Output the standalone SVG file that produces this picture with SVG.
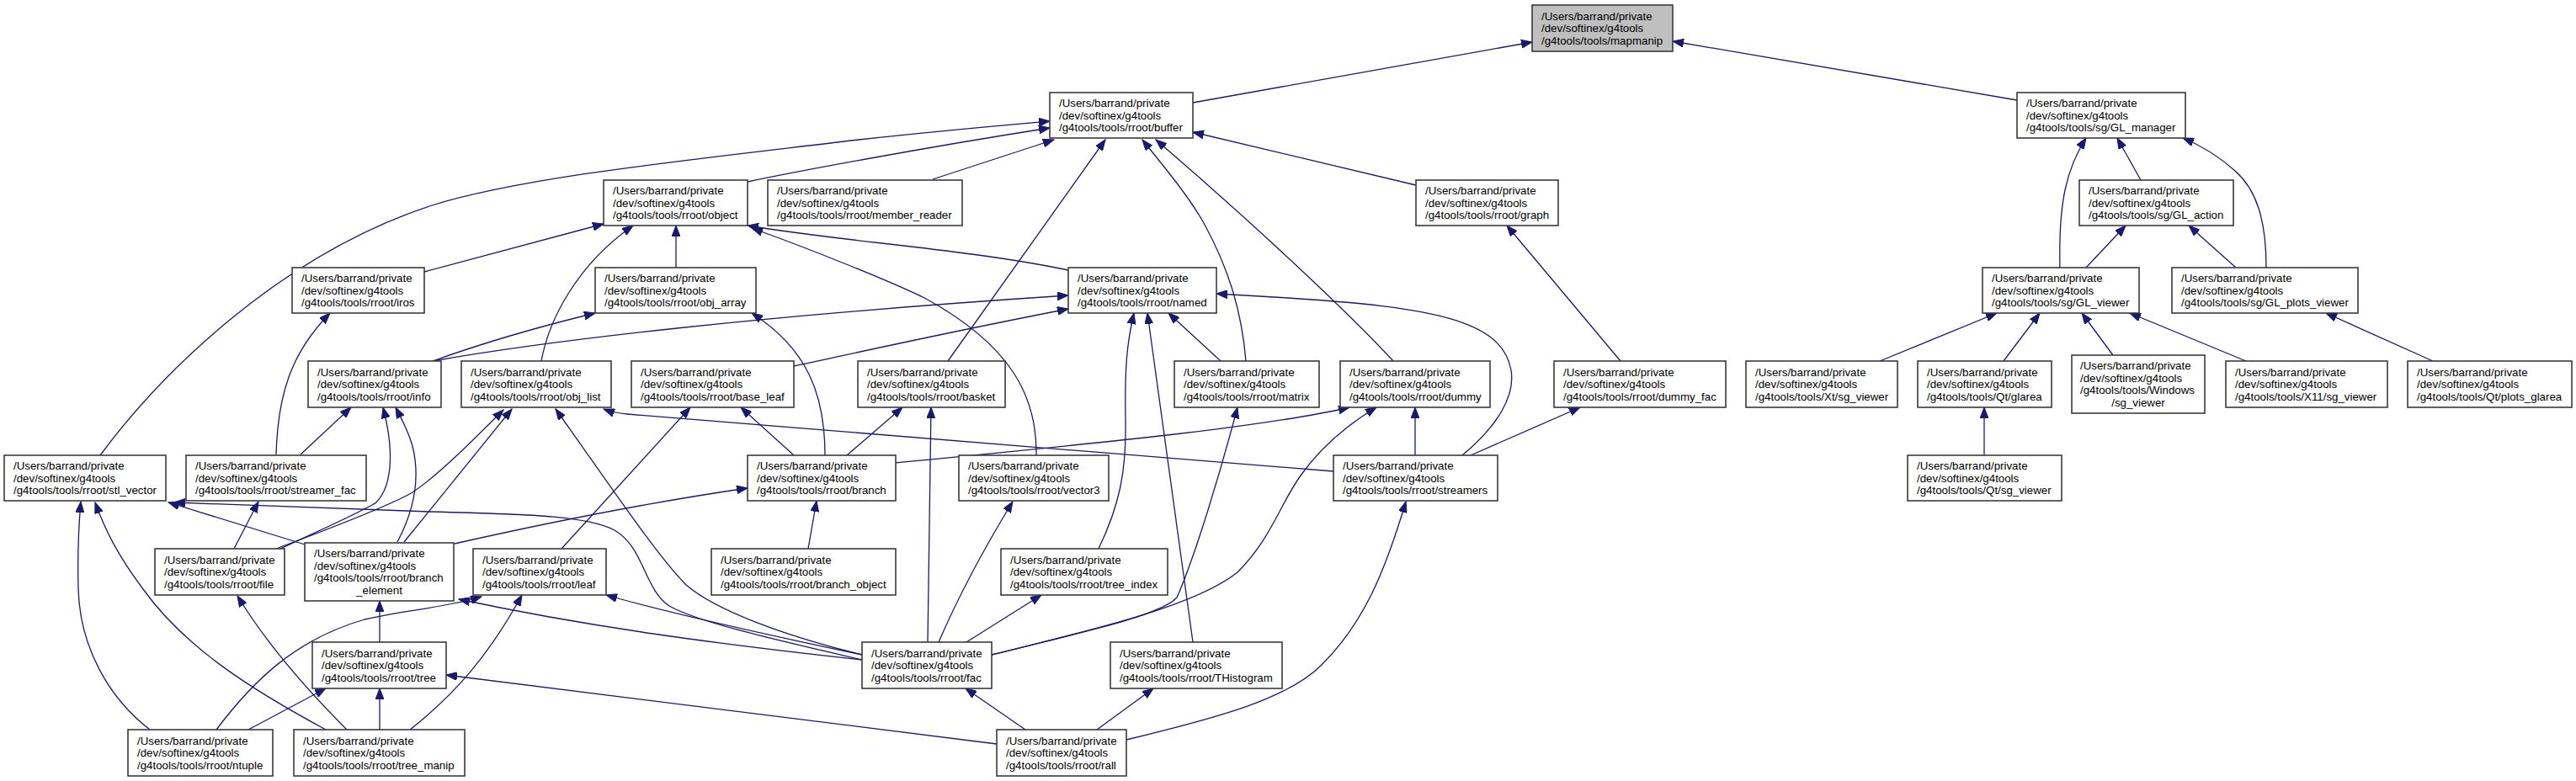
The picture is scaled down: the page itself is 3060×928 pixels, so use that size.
<svg xmlns="http://www.w3.org/2000/svg" width="3060" height="928" viewBox="0 0 3060 928">
<style>
.n rect{fill:#ffffff;stroke:#3a3a3a;stroke-width:1.6}
.n text{font-family:"Liberation Sans",Arial,sans-serif;font-size:13.3px;fill:#000}
#node_mapmanip rect{fill:#bfbfbf}
.e path{fill:none;stroke:#191970;stroke-width:1.3;marker-end:url(#ah)}
</style>
<defs>
<marker id="ah" markerWidth="14" markerHeight="10" refX="13" refY="5" orient="auto" markerUnits="userSpaceOnUse">
<path d="M0,0 L13,5 L0,10 z" fill="#191970" stroke="#191970" stroke-width="1"/>
</marker>
</defs>
<rect width="3060" height="928" fill="#ffffff"/>
<g id="edges" class="e">
<path d="M1417,122 L1820,50"/>
<path d="M2396,119 L1987,49"/>
<path d="M119,541 C190,445 330,305 510,245 C620,210 820,190 1020,166 C1120,155 1190,149 1247,144"/>
<path d="M888,216 C950,203 1100,175 1247,152"/>
<path d="M1108,213 L1252,166"/>
<path d="M1126,429 L1313,166"/>
<path d="M1480,429 C1475,370 1460,320 1430,265 C1410,230 1380,195 1357,166"/>
<path d="M1655,429 C1610,380 1500,275 1373,166"/>
<path d="M1682,220 L1417,157"/>
<path d="M504,323 L717,266"/>
<path d="M643,429 C652,380 685,315 752,268"/>
<path d="M803,318 L803,268"/>
<path d="M1269,321 C1150,296 1000,287 888,268"/>
<path d="M1231,541 C1232,470 1200,410 1100,355 C1060,335 960,295 893,271"/>
<path d="M514,429 Q600,398 707,372"/>
<path d="M980,541 C980,470 960,415 893,372"/>
<path d="M514,429 C650,405 900,375 1269,351"/>
<path d="M943,435 C1000,423 1100,400 1269,367"/>
<path d="M1737,541 C1780,505 1800,470 1795,440 C1785,380 1700,365 1530,354 L1445,349"/>
<path d="M1305,652 C1330,600 1338,560 1337,500 C1336,440 1338,410 1347,372"/>
<path d="M1417,763 L1363,372"/>
<path d="M1450,429 L1388,372"/>
<path d="M328,540 C330,470 345,420 392,372"/>
<path d="M357,540 L417,484"/>
<path d="M333,652 C380,630 430,608 447,597 C468,575 467,530 455,484"/>
<path d="M472,644 C490,610 500,570 490,530 C485,512 478,500 470,484"/>
<path d="M328,652 C400,625 465,600 490,585 C520,565 560,525 598,487"/>
<path d="M480,644 L608,486"/>
<path d="M1024,778 C930,755 850,725 815,695 C780,660 720,570 660,486"/>
<path d="M1584,560 C1300,537 900,505 745,492 C735,491 725,489 717,486"/>
<path d="M1063,550 C1300,527 1500,508 1603,484"/>
<path d="M1178,778 C1300,748 1420,720 1470,680 C1510,640 1520,600 1545,565 C1570,530 1600,505 1635,484"/>
<path d="M1178,778 C1300,748 1380,730 1398,710 C1420,660 1450,560 1470,484"/>
<path d="M1681,541 L1681,484"/>
<path d="M1747,541 L1877,484"/>
<path d="M1925,429 L1790,268"/>
<path d="M2447,318 C2445,240 2455,200 2478,164"/>
<path d="M2543,214 L2515,164"/>
<path d="M2692,318 C2692,260 2680,225 2655,203 C2635,185 2615,173 2593,164"/>
<path d="M2478,318 L2525,268"/>
<path d="M2656,318 L2600,268"/>
<path d="M2233,429 L2372,372"/>
<path d="M2380,429 L2423,372"/>
<path d="M2510,422 L2473,372"/>
<path d="M2668,429 L2530,372"/>
<path d="M2890,429 L2763,372"/>
<path d="M2357,541 L2357,484"/>
<path d="M362,647 L200,597"/>
<path d="M1024,784 C930,762 830,740 795,720 C765,700 765,650 730,630 C700,614 640,611 510,608 L207,597"/>
<path d="M178,867 C130,830 95,770 93,700 C92,660 93,630 96,596"/>
<path d="M387,867 C300,820 220,770 170,700 C140,660 125,630 113,597"/>
<path d="M278,652 L307,596"/>
<path d="M412,867 C370,825 320,770 282,708"/>
<path d="M451,763 L451,714"/>
<path d="M1024,784 C850,765 700,745 545,712"/>
<path d="M540,646 C620,628 750,600 888,580"/>
<path d="M960,652 L970,595"/>
<path d="M943,541 L880,484"/>
<path d="M1006,541 L1072,484"/>
<path d="M257,867 C300,810 350,760 433,736 C480,725 530,722 572,709"/>
<path d="M487,867 C540,825 580,780 620,707"/>
<path d="M1024,778 C900,752 800,730 720,707"/>
<path d="M667,652 L820,484"/>
<path d="M1102,763 L1106,484"/>
<path d="M1115,763 C1140,705 1170,650 1203,596"/>
<path d="M1148,763 L1237,707"/>
<path d="M1218,867 L1147,818"/>
<path d="M1303,867 L1370,818"/>
<path d="M295,867 L387,818"/>
<path d="M451,867 L451,818"/>
<path d="M1184,884 L530,802"/>
<path d="M1338,879 C1450,852 1530,830 1570,790 C1620,740 1645,680 1670,596"/>
</g>
<g id="node_mapmanip" class="n"><rect x="1820" y="6" width="167" height="55"/><text><tspan x="1831" y="23.5">/Users/barrand/private</tspan><tspan x="1831" y="38">/dev/softinex/g4tools</tspan><tspan x="1831" y="52.5">/g4tools/tools/mapmanip</tspan></text></g>
<g id="node_buffer" class="n"><rect x="1247" y="110" width="170" height="54"/><text><tspan x="1258" y="127">/Users/barrand/private</tspan><tspan x="1258" y="141.5">/dev/softinex/g4tools</tspan><tspan x="1258" y="156">/g4tools/tools/rroot/buffer</tspan></text></g>
<g id="node_GL_manager" class="n"><rect x="2396" y="110" width="200" height="54"/><text><tspan x="2407" y="127">/Users/barrand/private</tspan><tspan x="2407" y="141.5">/dev/softinex/g4tools</tspan><tspan x="2407" y="156">/g4tools/tools/sg/GL_manager</tspan></text></g>
<g id="node_object" class="n"><rect x="717" y="214" width="171" height="54"/><text><tspan x="728" y="231">/Users/barrand/private</tspan><tspan x="728" y="245.5">/dev/softinex/g4tools</tspan><tspan x="728" y="260">/g4tools/tools/rroot/object</tspan></text></g>
<g id="node_member_reader" class="n"><rect x="912" y="214" width="231" height="54"/><text><tspan x="923" y="231">/Users/barrand/private</tspan><tspan x="923" y="245.5">/dev/softinex/g4tools</tspan><tspan x="923" y="260">/g4tools/tools/rroot/member_reader</tspan></text></g>
<g id="node_graph" class="n"><rect x="1682" y="214" width="169" height="54"/><text><tspan x="1693" y="231">/Users/barrand/private</tspan><tspan x="1693" y="245.5">/dev/softinex/g4tools</tspan><tspan x="1693" y="260">/g4tools/tools/rroot/graph</tspan></text></g>
<g id="node_GL_action" class="n"><rect x="2470" y="214" width="183" height="54"/><text><tspan x="2481" y="231">/Users/barrand/private</tspan><tspan x="2481" y="245.5">/dev/softinex/g4tools</tspan><tspan x="2481" y="260">/g4tools/tools/sg/GL_action</tspan></text></g>
<g id="node_iros" class="n"><rect x="347" y="318" width="157" height="54"/><text><tspan x="358" y="335">/Users/barrand/private</tspan><tspan x="358" y="349.5">/dev/softinex/g4tools</tspan><tspan x="358" y="364">/g4tools/tools/rroot/iros</tspan></text></g>
<g id="node_obj_array" class="n"><rect x="707" y="318" width="191" height="54"/><text><tspan x="718" y="335">/Users/barrand/private</tspan><tspan x="718" y="349.5">/dev/softinex/g4tools</tspan><tspan x="718" y="364">/g4tools/tools/rroot/obj_array</tspan></text></g>
<g id="node_named" class="n"><rect x="1269" y="318" width="176" height="54"/><text><tspan x="1280" y="335">/Users/barrand/private</tspan><tspan x="1280" y="349.5">/dev/softinex/g4tools</tspan><tspan x="1280" y="364">/g4tools/tools/rroot/named</tspan></text></g>
<g id="node_GL_viewer" class="n"><rect x="2355" y="318" width="186" height="54"/><text><tspan x="2366" y="335">/Users/barrand/private</tspan><tspan x="2366" y="349.5">/dev/softinex/g4tools</tspan><tspan x="2366" y="364">/g4tools/tools/sg/GL_viewer</tspan></text></g>
<g id="node_GL_plots_viewer" class="n"><rect x="2580" y="318" width="221" height="54"/><text><tspan x="2591" y="335">/Users/barrand/private</tspan><tspan x="2591" y="349.5">/dev/softinex/g4tools</tspan><tspan x="2591" y="364">/g4tools/tools/sg/GL_plots_viewer</tspan></text></g>
<g id="node_info" class="n"><rect x="366" y="429" width="158" height="55"/><text><tspan x="377" y="446.5">/Users/barrand/private</tspan><tspan x="377" y="461">/dev/softinex/g4tools</tspan><tspan x="377" y="475.5">/g4tools/tools/rroot/info</tspan></text></g>
<g id="node_obj_list" class="n"><rect x="548" y="429" width="178" height="55"/><text><tspan x="559" y="446.5">/Users/barrand/private</tspan><tspan x="559" y="461">/dev/softinex/g4tools</tspan><tspan x="559" y="475.5">/g4tools/tools/rroot/obj_list</tspan></text></g>
<g id="node_base_leaf" class="n"><rect x="750" y="429" width="193" height="55"/><text><tspan x="761" y="446.5">/Users/barrand/private</tspan><tspan x="761" y="461">/dev/softinex/g4tools</tspan><tspan x="761" y="475.5">/g4tools/tools/rroot/base_leaf</tspan></text></g>
<g id="node_basket" class="n"><rect x="1019" y="429" width="175" height="55"/><text><tspan x="1030" y="446.5">/Users/barrand/private</tspan><tspan x="1030" y="461">/dev/softinex/g4tools</tspan><tspan x="1030" y="475.5">/g4tools/tools/rroot/basket</tspan></text></g>
<g id="node_matrix" class="n"><rect x="1395" y="429" width="172" height="55"/><text><tspan x="1406" y="446.5">/Users/barrand/private</tspan><tspan x="1406" y="461">/dev/softinex/g4tools</tspan><tspan x="1406" y="475.5">/g4tools/tools/rroot/matrix</tspan></text></g>
<g id="node_dummy" class="n"><rect x="1592" y="429" width="178" height="55"/><text><tspan x="1603" y="446.5">/Users/barrand/private</tspan><tspan x="1603" y="461">/dev/softinex/g4tools</tspan><tspan x="1603" y="475.5">/g4tools/tools/rroot/dummy</tspan></text></g>
<g id="node_dummy_fac" class="n"><rect x="1846" y="429" width="204" height="55"/><text><tspan x="1857" y="446.5">/Users/barrand/private</tspan><tspan x="1857" y="461">/dev/softinex/g4tools</tspan><tspan x="1857" y="475.5">/g4tools/tools/rroot/dummy_fac</tspan></text></g>
<g id="node_Xt_sg_viewer" class="n"><rect x="2074" y="429" width="180" height="55"/><text><tspan x="2085" y="446.5">/Users/barrand/private</tspan><tspan x="2085" y="461">/dev/softinex/g4tools</tspan><tspan x="2085" y="475.5">/g4tools/tools/Xt/sg_viewer</tspan></text></g>
<g id="node_Qt_glarea" class="n"><rect x="2278" y="429" width="159" height="55"/><text><tspan x="2289" y="446.5">/Users/barrand/private</tspan><tspan x="2289" y="461">/dev/softinex/g4tools</tspan><tspan x="2289" y="475.5">/g4tools/tools/Qt/glarea</tspan></text></g>
<g id="node_Windows_sg_viewer" class="n"><rect x="2461" y="422" width="158" height="69"/><text><tspan x="2471" y="439.25">/Users/barrand/private</tspan><tspan x="2471" y="453.75">/dev/softinex/g4tools</tspan><tspan x="2471" y="468.25">/g4tools/tools/Windows</tspan><tspan x="2540" y="482.75" text-anchor="middle">/sg_viewer</tspan></text></g>
<g id="node_X11_sg_viewer" class="n"><rect x="2644" y="429" width="192" height="55"/><text><tspan x="2655" y="446.5">/Users/barrand/private</tspan><tspan x="2655" y="461">/dev/softinex/g4tools</tspan><tspan x="2655" y="475.5">/g4tools/tools/X11/sg_viewer</tspan></text></g>
<g id="node_Qt_plots_glarea" class="n"><rect x="2860" y="429" width="195" height="55"/><text><tspan x="2871" y="446.5">/Users/barrand/private</tspan><tspan x="2871" y="461">/dev/softinex/g4tools</tspan><tspan x="2871" y="475.5">/g4tools/tools/Qt/plots_glarea</tspan></text></g>
<g id="node_stl_vector" class="n"><rect x="5" y="541" width="192" height="54"/><text><tspan x="16" y="558">/Users/barrand/private</tspan><tspan x="16" y="572.5">/dev/softinex/g4tools</tspan><tspan x="16" y="587">/g4tools/tools/rroot/stl_vector</tspan></text></g>
<g id="node_streamer_fac" class="n"><rect x="221" y="541" width="214" height="54"/><text><tspan x="232" y="558">/Users/barrand/private</tspan><tspan x="232" y="572.5">/dev/softinex/g4tools</tspan><tspan x="232" y="587">/g4tools/tools/rroot/streamer_fac</tspan></text></g>
<g id="node_branch" class="n"><rect x="888" y="541" width="176" height="54"/><text><tspan x="899" y="558">/Users/barrand/private</tspan><tspan x="899" y="572.5">/dev/softinex/g4tools</tspan><tspan x="899" y="587">/g4tools/tools/rroot/branch</tspan></text></g>
<g id="node_vector3" class="n"><rect x="1139" y="541" width="178" height="54"/><text><tspan x="1150" y="558">/Users/barrand/private</tspan><tspan x="1150" y="572.5">/dev/softinex/g4tools</tspan><tspan x="1150" y="587">/g4tools/tools/rroot/vector3</tspan></text></g>
<g id="node_streamers" class="n"><rect x="1584" y="541" width="195" height="54"/><text><tspan x="1595" y="558">/Users/barrand/private</tspan><tspan x="1595" y="572.5">/dev/softinex/g4tools</tspan><tspan x="1595" y="587">/g4tools/tools/rroot/streamers</tspan></text></g>
<g id="node_Qt_sg_viewer" class="n"><rect x="2266" y="541" width="183" height="54"/><text><tspan x="2277" y="558">/Users/barrand/private</tspan><tspan x="2277" y="572.5">/dev/softinex/g4tools</tspan><tspan x="2277" y="587">/g4tools/tools/Qt/sg_viewer</tspan></text></g>
<g id="node_file" class="n"><rect x="184" y="652" width="154" height="55"/><text><tspan x="195" y="669.5">/Users/barrand/private</tspan><tspan x="195" y="684">/dev/softinex/g4tools</tspan><tspan x="195" y="698.5">/g4tools/tools/rroot/file</tspan></text></g>
<g id="node_branch_element" class="n"><rect x="362" y="645" width="177" height="69"/><text><tspan x="373" y="662.25">/Users/barrand/private</tspan><tspan x="373" y="676.75">/dev/softinex/g4tools</tspan><tspan x="373" y="691.25">/g4tools/tools/rroot/branch</tspan><tspan x="450.5" y="705.75" text-anchor="middle">_element</tspan></text></g>
<g id="node_leaf" class="n"><rect x="562" y="652" width="158" height="55"/><text><tspan x="573" y="669.5">/Users/barrand/private</tspan><tspan x="573" y="684">/dev/softinex/g4tools</tspan><tspan x="573" y="698.5">/g4tools/tools/rroot/leaf</tspan></text></g>
<g id="node_branch_object" class="n"><rect x="845" y="652" width="219" height="55"/><text><tspan x="856" y="669.5">/Users/barrand/private</tspan><tspan x="856" y="684">/dev/softinex/g4tools</tspan><tspan x="856" y="698.5">/g4tools/tools/rroot/branch_object</tspan></text></g>
<g id="node_tree_index" class="n"><rect x="1189" y="652" width="198" height="55"/><text><tspan x="1200" y="669.5">/Users/barrand/private</tspan><tspan x="1200" y="684">/dev/softinex/g4tools</tspan><tspan x="1200" y="698.5">/g4tools/tools/rroot/tree_index</tspan></text></g>
<g id="node_tree" class="n"><rect x="371" y="763" width="159" height="55"/><text><tspan x="382" y="780.5">/Users/barrand/private</tspan><tspan x="382" y="795">/dev/softinex/g4tools</tspan><tspan x="382" y="809.5">/g4tools/tools/rroot/tree</tspan></text></g>
<g id="node_fac" class="n"><rect x="1024" y="763" width="154" height="55"/><text><tspan x="1035" y="780.5">/Users/barrand/private</tspan><tspan x="1035" y="795">/dev/softinex/g4tools</tspan><tspan x="1035" y="809.5">/g4tools/tools/rroot/fac</tspan></text></g>
<g id="node_THistogram" class="n"><rect x="1319" y="763" width="204" height="55"/><text><tspan x="1330" y="780.5">/Users/barrand/private</tspan><tspan x="1330" y="795">/dev/softinex/g4tools</tspan><tspan x="1330" y="809.5">/g4tools/tools/rroot/THistogram</tspan></text></g>
<g id="node_ntuple" class="n"><rect x="152" y="867" width="172" height="55"/><text><tspan x="163" y="884.5">/Users/barrand/private</tspan><tspan x="163" y="899">/dev/softinex/g4tools</tspan><tspan x="163" y="913.5">/g4tools/tools/rroot/ntuple</tspan></text></g>
<g id="node_tree_manip" class="n"><rect x="349" y="867" width="203" height="55"/><text><tspan x="360" y="884.5">/Users/barrand/private</tspan><tspan x="360" y="899">/dev/softinex/g4tools</tspan><tspan x="360" y="913.5">/g4tools/tools/rroot/tree_manip</tspan></text></g>
<g id="node_rall" class="n"><rect x="1184" y="867" width="154" height="55"/><text><tspan x="1195" y="884.5">/Users/barrand/private</tspan><tspan x="1195" y="899">/dev/softinex/g4tools</tspan><tspan x="1195" y="913.5">/g4tools/tools/rroot/rall</tspan></text></g>
</svg>
